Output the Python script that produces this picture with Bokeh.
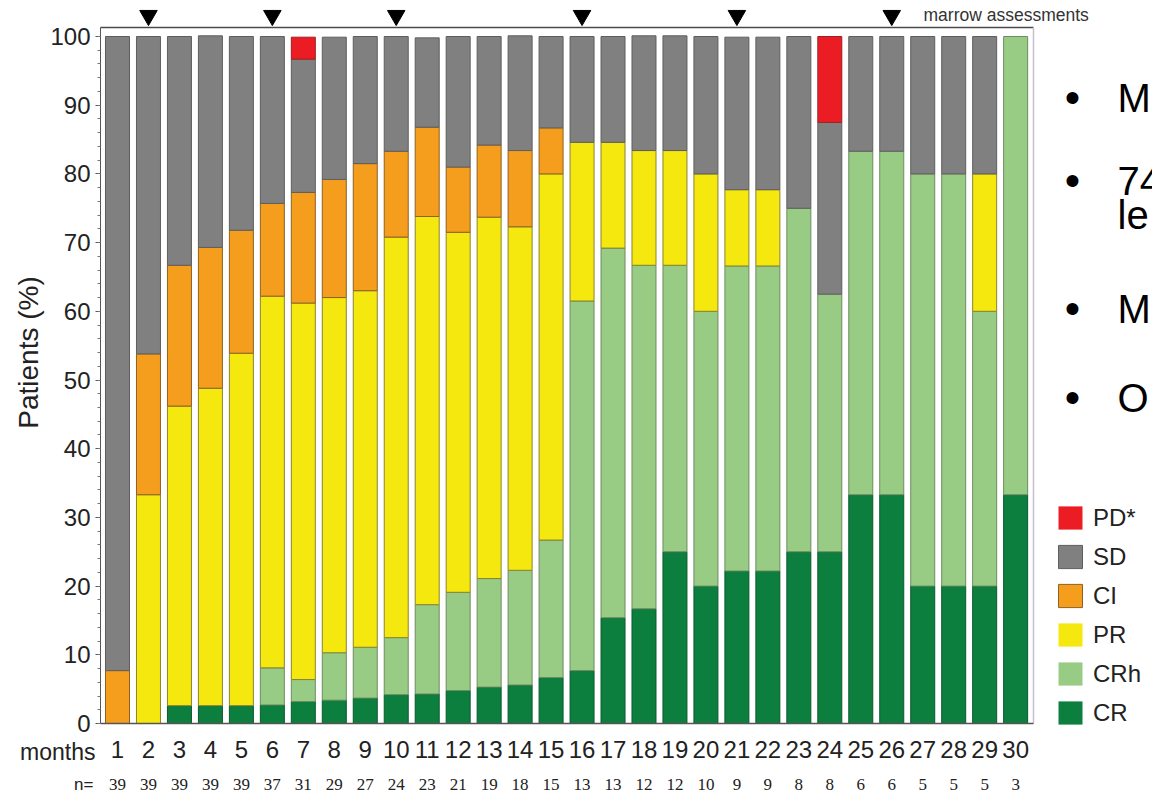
import math
from bokeh.plotting import figure
from bokeh.models import (FixedTicker, Legend, LegendItem, Label, LabelSet,
                          ColumnDataSource, Range1d)
from bokeh.embed import file_html
from bokeh.resources import INLINE

# ---------------- data ----------------
months = list(range(1, 31))
n_patients = [39, 39, 39, 39, 39, 37, 31, 29, 27, 24, 23, 21, 19, 18, 15,
              13, 13, 12, 12, 10, 9, 9, 8, 8, 6, 6, 5, 5, 5, 3]
CR = [0, 0, 2.6, 2.6, 2.6, 2.7, 3.2, 3.4, 3.7, 4.2, 4.3, 4.8, 5.3, 5.6, 6.7,
      7.7, 15.4, 16.7, 25.0, 20.0, 22.2, 22.2, 25.0, 25.0, 33.3, 33.3, 20.0, 20.0, 20.0, 33.3]
CRh = [0, 0, 0, 0, 0, 5.4, 3.2, 6.9, 7.4, 8.3, 13.0, 14.3, 15.8, 16.7, 20.0,
       53.8, 53.8, 50.0, 41.7, 40.0, 44.4, 44.4, 50.0, 37.5, 50.0, 50.0, 60.0, 60.0, 40.0, 66.7]
PR = [0, 33.3, 43.6, 46.2, 51.3, 54.1, 54.8, 51.7, 51.9, 58.3, 56.5, 52.4, 52.6, 50.0, 53.3,
      23.1, 15.4, 16.7, 16.7, 20.0, 11.1, 11.1, 0, 0, 0, 0, 0, 0, 20.0, 0]
CI = [7.7, 20.5, 20.5, 20.5, 17.9, 13.5, 16.1, 17.2, 18.5, 12.5, 13.0, 9.5, 10.5, 11.1, 6.7,
      0, 0, 0, 0, 0, 0, 0, 0, 0, 0, 0, 0, 0, 0, 0]
SD = [92.3, 46.2, 33.3, 30.8, 28.2, 24.3, 19.4, 20.7, 18.5, 16.7, 13.0, 19.0, 15.8, 16.7, 13.3,
      15.4, 15.4, 16.7, 16.7, 20.0, 22.2, 22.2, 25.0, 25.0, 16.7, 16.7, 20.0, 20.0, 20.0, 0]
PD = [0, 0, 0, 0, 0, 0, 3.2, 0, 0, 0, 0, 0, 0, 0, 0,
      0, 0, 0, 0, 0, 0, 0, 0, 12.5, 0, 0, 0, 0, 0, 0]
marrow_months = [2, 6, 10, 16, 21, 26]

keys = ["CR", "CRh", "PR", "CI", "SD", "PD"]
legend_names = ["CR", "CRh", "PR", "CI", "SD", "PD*"]
fill_colors = ["#0c7f3f", "#98cc84", "#f4e80e", "#f59d1c", "#808080", "#ec1c24"]
line_colors = ["#0a5a2e", "#6e8c62", "#8a8430", "#8c6224", "#5e5e5e", "#9a2222"]
y_ticks = list(range(0, 101, 10))
y_minor = list(range(0, 101, 2))

bullet_lines = ["M", "74", "le", "M", "O"]

FONT = "Liberation Sans"
W, H = 1152, 795


# layout helpers (picture pixel -> data coordinate), for placement only
def px_x(px):
    return 1 + (px - 117) / 30.97


def px_y(py):
    return (723 - py) / 6.87


p = figure(width=W, height=H, output_backend="svg", toolbar_location=None,
           x_range=Range1d(px_x(0), px_x(W)), y_range=Range1d(px_y(H), px_y(0)),
           min_border_left=0, min_border_right=0, min_border_top=0,
           min_border_bottom=0)
p.outline_line_color = None
p.xgrid.visible = False
p.ygrid.visible = False
p.background_fill_color = "white"
p.border_fill_color = "white"

data = dict(month=months, CR=CR, CRh=CRh, PR=PR, CI=CI, SD=SD, PD=PD)
for k in keys:
    data[k + "_la"] = [1.0 if v > 0 else 0.0 for v in data[k]]
source = ColumnDataSource(data)
rends = p.vbar_stack(keys, x="month", width=0.775, source=source,
                     fill_color=fill_colors, line_color=line_colors,
                     line_alpha=[k + "_la" for k in keys], line_width=1)

# frame lines (top and right)
p.segment(x0=[px_x(100)], y0=[px_y(27)], x1=[px_x(1033)], y1=[px_y(27)],
          line_color="#4a4a4a", line_width=1.3)
p.segment(x0=[px_x(1033)], y0=[0], x1=[px_x(1033)], y1=[px_y(27)],
          line_color="#c6c0d0", line_width=1.5)

# marrow assessment markers
p.scatter(x=marrow_months, y=[px_y(15)] * len(marrow_months),
          marker="inverted_triangle", size=17.5, color="black")
p.add_layout(Label(x=px_x(923), y=px_y(14), text="marrow assessments",
                   text_font=FONT, text_font_size="17.5px", text_color="#333333",
                   text_baseline="middle", text_align="left"))

# axes (placed at fixed data locations inside the full-canvas frame)
p.yaxis.fixed_location = px_x(100)
p.yaxis.ticker = FixedTicker(ticks=y_ticks, minor_ticks=y_minor)
p.yaxis.bounds = (0, px_y(27))
p.yaxis.axis_line_color = "#555555"
p.yaxis.major_tick_line_color = "#555555"
p.yaxis.minor_tick_line_color = "#777777"
p.yaxis.major_tick_out = 5
p.yaxis.major_tick_in = 0
p.yaxis.minor_tick_out = 3
p.yaxis.minor_tick_in = 0
p.yaxis.major_label_standoff = 5
p.yaxis.major_label_text_font = FONT
p.yaxis.major_label_text_font_size = "24px"
p.yaxis.major_label_text_color = "#222222"

p.xaxis.fixed_location = 0
p.xaxis.ticker = FixedTicker(ticks=months)
p.xaxis.bounds = (px_x(100), px_x(1033))
p.xaxis.axis_line_color = "#555555"
p.xaxis.axis_line_width = 1.3
p.xaxis.major_tick_line_color = None
p.xaxis.minor_tick_line_color = None
p.xaxis.major_tick_out = 0
p.xaxis.major_tick_in = 0
p.xaxis.major_label_standoff = 17
p.xaxis.major_label_text_font = FONT
p.xaxis.major_label_text_font_size = "24px"
p.xaxis.major_label_text_color = "#222222"

p.add_layout(Label(x=px_x(28), y=px_y(352), text="Patients (%)", angle=math.pi / 2,
                   text_font=FONT, text_font_size="28px", text_color="#222222",
                   text_align="center", text_baseline="middle"))
p.add_layout(Label(x=px_x(95), y=px_y(751), text="months", text_font=FONT,
                   text_font_size="23px", text_color="#222222",
                   text_align="right", text_baseline="middle"))
p.add_layout(Label(x=px_x(93), y=px_y(784), text="n=", text_font=FONT,
                   text_font_size="17px", text_color="#222222",
                   text_align="right", text_baseline="middle"))
n_src = ColumnDataSource(dict(x=months, y=[px_y(784)] * len(months),
                              t=[str(v) for v in n_patients]))
p.add_layout(LabelSet(x="x", y="y", text="t", source=n_src, text_font=FONT,
                      text_font_size="17px", text_color="#222222",
                      text_align="center", text_baseline="middle"))

# legend (PD* on top)
items = [LegendItem(label=legend_names[i], renderers=[rends[i]])
         for i in reversed(range(len(keys)))]
legend = Legend(items=items, location=(1055, 68), orientation="vertical",
                glyph_width=30, glyph_height=29, label_height=29,
                spacing=10, padding=0, margin=0, label_standoff=8,
                label_text_font=FONT, label_text_font_size="24px",
                label_text_color="#222222", label_text_baseline="middle",
                border_line_color=None, background_fill_alpha=0)
p.add_layout(legend)

# cut-off slide bullets on the right
bullet_y = [97, 180, 214, 308, 397]
for txt, yy in zip(bullet_lines, bullet_y):
    if txt != "le":
        p.add_layout(Label(x=px_x(1072), y=px_y(yy), text="\u2022", text_font=FONT,
                           text_font_size="44px", text_color="black",
                           text_align="center", text_baseline="middle"))
    p.add_layout(Label(x=px_x(1117), y=px_y(yy), text=txt, text_font=FONT,
                       text_font_size="40px", text_color="black",
                       text_align="left", text_baseline="middle"))

open("out.html", "w").write(file_html(p, INLINE))
